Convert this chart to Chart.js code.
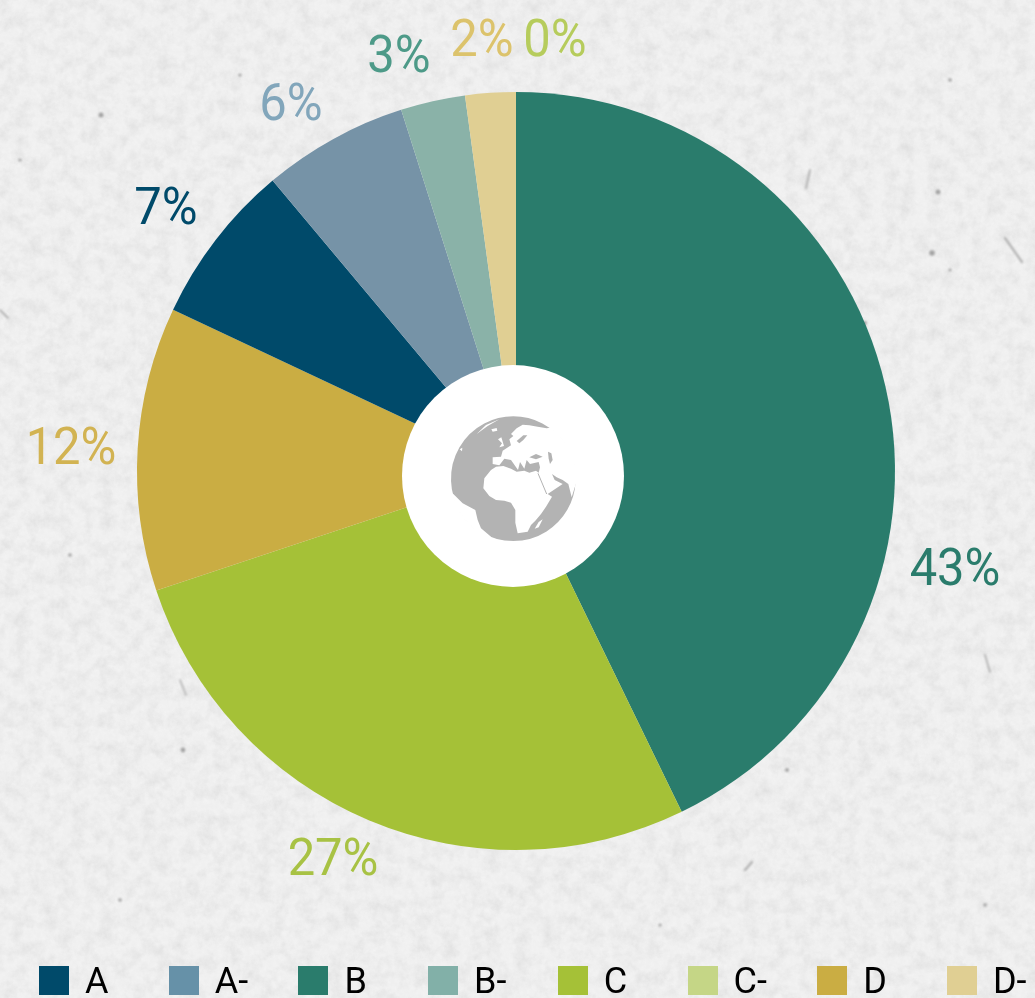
<!DOCTYPE html>
<html>
<head>
<meta charset="utf-8">
<script src="https://cdn.jsdelivr.net/npm/chart.js@4/dist/chart.umd.js"></script>
<style>
html,body{margin:0;padding:0;width:1035px;height:998px;overflow:hidden;background:#eeeeee}
#bg{position:absolute;left:0;top:0;width:1035px;height:998px}
#wrap{position:absolute;left:0;top:0;width:1035px;height:998px}
#legend{position:absolute;left:0;top:966px;width:1035px;height:29px;font-family:Roboto,sans-serif;font-size:36px;line-height:29px;color:#000}
.it{position:absolute;top:0;height:29px;white-space:nowrap}
.it i{position:absolute;left:0;top:0;width:30px;height:29px}
.it span{position:absolute;left:46px;top:1px}
</style>
</head>
<body>
<svg id="bg" xmlns="http://www.w3.org/2000/svg" viewBox="0 0 1035 998">
<defs>
<filter id="paper" x="0" y="0" width="100%" height="100%">
<feTurbulence type="fractalNoise" baseFrequency="0.07" numOctaves="5" seed="11"/>
<feColorMatrix type="matrix" values="0 0 0 0 0  0 0 0 0 0  0 0 0 0 0  0.5 0 0 0 -0.18"/>
</filter>
<filter id="paper2" x="0" y="0" width="100%" height="100%">
<feTurbulence type="fractalNoise" baseFrequency="0.22" numOctaves="3" seed="3"/>
<feColorMatrix type="matrix" values="0 0 0 0 1  0 0 0 0 1  0 0 0 0 1  1.0 0 0 0 -0.3"/>
</filter>
<filter id="soft"><feGaussianBlur stdDeviation="1.1"/></filter>
</defs>
<rect width="1035" height="998" fill="#efefef"/>
<rect width="1035" height="998" filter="url(#paper)" opacity="0.2"/>
<rect width="1035" height="998" filter="url(#paper2)" opacity="0.4"/>
<g filter="url(#soft)" fill="#a2a2a2" stroke="#b0b0b0" stroke-linecap="round">
<circle cx="101" cy="115" r="2.5" stroke="none"/><circle cx="938" cy="192" r="2.5" stroke="none"/>
<circle cx="932" cy="253" r="2.8" stroke="none"/><circle cx="950" cy="270" r="1.6" stroke="none"/>
<circle cx="183" cy="750" r="2.4" stroke="none"/><circle cx="787" cy="770" r="2" stroke="none"/>
<circle cx="70" cy="555" r="1.8" stroke="none"/><circle cx="20" cy="160" r="1.6" stroke="none"/>
<circle cx="865" cy="323" r="2" stroke="none"/><circle cx="985" cy="905" r="1.8" stroke="none"/>
<circle cx="120" cy="900" r="1.8" stroke="none"/><circle cx="660" cy="925" r="1.6" stroke="none"/>
<circle cx="950" cy="80" r="1.8" stroke="none"/><circle cx="240" cy="75" r="1.6" stroke="none"/>
<path d="M1005 238L1022 262" stroke-width="2.2"/><path d="M745 870L752 862" stroke-width="2.4"/>
<path d="M810 170L806 188" stroke-width="2"/><path d="M985 655L990 672" stroke-width="1.8"/>
<path d="M0 310L8 318" stroke-width="1.8"/><path d="M180 680L186 695" stroke-width="1.6"/>
</g>
</svg>
<div id="wrap"><canvas id="c" width="1035" height="998"></canvas></div>
<div id="legend"></div>
<script>
// Drawing order of the slices, clockwise from 12 o'clock
const categories = ['B','C','D','A','A-','B-','D-','C-'];
const values = [42.8,27.1,12.1,6.9,6.2,2.75,2.15,0];
const sliceColors = ['#2a7c6c','#a5c137','#caad43','#004a6a','#7693a7','#8ab2a8','#e0cf93','#c5d686'];
const labelColors = ['#2a7c6c','#a8c244','#d2b352','#004a6a','#82a6bb','#4d9a88','#dcc36c','#b6cc5c'];
// Legend order and colours
const legendCategories = ['A','A-','B','B-','C','C-','D','D-'];
const legendColors = ['#004a6a','#6691a8','#2a7c6c','#82b0a8','#a5c137','#c5d686','#caad43','#e0cf93'];

// Label offsets from the pie centre, in the order of categories
const labelOffsetX = [439,-183,-445,-350,-225,-117,-34,39];
const labelOffsetY = [101,391,-20,-260,-364,-412,-428,-428];

const grey = '#b3b3b3';
const sea = 'M352 166a190 190 0 1 0 .01 0Z';
const lands = [
 // Eurasia + Africa
 'M452 205L560 190L620 300L541 367L527 412L517 372L500 360L482 352L468 342L476 360L500 372L455 402L468 410L450 440L435 462L418 482L405 495L395 515L365 520L358 488L358 450L345 428L325 422L300 420L280 408L262 385L265 355L285 330L300 320L322 318L345 326L362 335L385 332L400 338L420 332L428 338L432 322L428 306L402 312L392 300L385 326L372 306L366 330L345 300L325 296L310 316L290 312L290 292L315 290L320 272L345 256L340 238L352 228L345 222L362 205L380 194L400 196L425 200Z',
 // South America side
 'M150 392L172 402L200 430L238 450L245 480L255 505L285 530L200 580L120 460Z',
 // Britain and Iceland
 'M306 238L316 232L324 258L310 262L318 250Z',
 'M286 208L302 204L304 212L290 215Z',
 // Arctic sliver
 'M242 222L270 195L310 178L275 198Z',
 'M191 268L199 263L198 274Z',
 // Madagascar
 'M440 478L428 502L416 506L428 486Z'
];
const seas = [
 // Black Sea, Caspian, Baltic
 'M400 292L420 282L440 290L420 298Z',
 'M456 275L466 280L470 300L462 312L458 296Z',
 'M362 243L382 226L394 226L382 240L370 250Z'
];
const seaStrokes = ['M426 340L452 402'];

const hubAndLabels = {
  id: 'hubAndLabels',
  afterDatasetsDraw(chart) {
    const ctx = chart.ctx;
    const arcs = chart.getDatasetMeta(0).data;
    const cx = arcs[0].x, cy = arcs[0].y;
    // white hub, slightly off the pie centre as in the source
    ctx.save();
    ctx.fillStyle = '#fff';
    ctx.beginPath();
    ctx.arc(cx - 3, cy + 5, 111, 0, Math.PI * 2);
    ctx.fill();
    // globe icon
    ctx.translate(cx - 120, cy - 111);
    ctx.scale(1 / 3, 1 / 3);
    ctx.save();
    ctx.clip(new Path2D(sea));
    ctx.fillStyle = grey;
    ctx.fillRect(0, 0, 720, 720);
    ctx.fillStyle = '#fff';
    lands.forEach(d => ctx.fill(new Path2D(d)));
    ctx.fillStyle = grey;
    seas.forEach(d => ctx.fill(new Path2D(d)));
    ctx.strokeStyle = grey;
    ctx.lineWidth = 3;
    seaStrokes.forEach(d => ctx.stroke(new Path2D(d)));
    ctx.restore();
    ctx.strokeStyle = '#fff';
    ctx.lineWidth = 6;
    ctx.stroke(new Path2D(sea));
    ctx.restore();
    // percentage labels: slightly condensed, as in the source face
    ctx.save();
    ctx.font = '400 52px Roboto, sans-serif';
    ctx.textAlign = 'center';
    ctx.textBaseline = 'middle';
    const total = values.reduce((s, v) => s + v, 0);
    arcs.forEach((a, i) => {
      ctx.save();
      ctx.translate(cx + labelOffsetX[i], cy + labelOffsetY[i]);
      ctx.scale(0.94, 1);
      ctx.fillStyle = labelColors[i];
      ctx.fillText(Math.round(values[i] / total * 100) + '%', 0, 0);
      ctx.restore();
    });
    ctx.restore();
  }
};

new Chart(document.getElementById('c'), {
  type: 'pie',
  data: { labels: categories, datasets: [{ data: values, backgroundColor: sliceColors, borderWidth: 0, hoverOffset: 0 }] },
  options: {
    responsive: false,
    animation: false,
    layout: { padding: { left: 137, right: 140, top: 92, bottom: 148 } },
    plugins: { legend: { display: false }, tooltip: { enabled: false } }
  },
  plugins: [hubAndLabels]
});

const legendEl = document.getElementById('legend');
legendCategories.forEach((name, i) => {
  const it = document.createElement('div');
  it.className = 'it';
  it.style.left = (39 + i * 129.7) + 'px';
  it.innerHTML = '<i style="background:' + legendColors[i] + '"></i><span>' + name + '</span>';
  legendEl.appendChild(it);
});
</script>
</body>
</html>
